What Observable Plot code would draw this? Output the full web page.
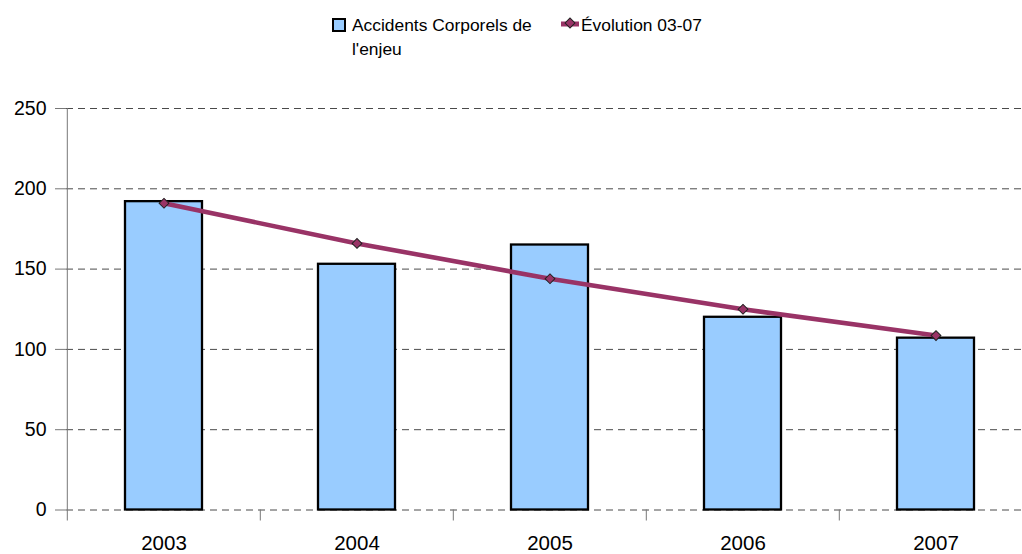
<!DOCTYPE html>
<html>
<head>
<meta charset="utf-8">
<script src="https://cdn.jsdelivr.net/npm/d3@7"></script>
<script src="https://cdn.jsdelivr.net/npm/@observablehq/plot@0.6"></script>
<style>
  html, body { margin: 0; padding: 0; background: #fff; }
  #wrap { position: relative; width: 1022px; height: 554px; font-family: "Liberation Sans", Arial, sans-serif; }
  #legend { position: relative; height: 80px; font-size: 17.4px; color: #000; }
  #legend .item { position: absolute; display: flex; align-items: flex-start; line-height: 24px; }
  #legend svg { display: block; }
  #chart svg { display: block; }
</style>
</head>
<body>
<div id="wrap">
  <div id="legend">
    <div class="item" style="left:331px; top:13px;">
      <svg width="17" height="24"><rect x="2" y="6" width="12" height="12" fill="#99ccff" stroke="#000" stroke-width="2"/></svg>
      <span style="margin-left:4px;">Accidents Corporels de<br>l'enjeu</span>
    </div>
    <div class="item" style="left:559px; top:13px;">
      <svg width="22" height="24"><line x1="2" y1="11" x2="20" y2="11" stroke="#993366" stroke-width="5"/><rect x="7.5" y="6.5" width="7" height="7" transform="rotate(45 11 10)" fill="#993366" stroke="#222" stroke-width="1"/></svg>
      <span style="margin-left:0px;">Évolution 03-07</span>
    </div>
  </div>
  <div id="chart"></div>
</div>
<script>
// Categories and series
const years = ["2003", "2004", "2005", "2006", "2007"];
const accidents = [192, 153, 165, 120, 107];
const evolution = [191, 166, 144, 125, 108.6];
const yTicks = [0, 50, 100, 150, 200, 250];

const bars = years.map((year, i) => ({year, value: accidents[i]}));
const trend = years.map((year, i) => ({year, value: evolution[i]}));

// Horizontal layout: each year occupies one band; ticks sit on band boundaries
const xRange = [66, 1033];
const step = (xRange[1] - xRange[0]) / years.length;

const plumColor = "#993366";
const gridColor = "#4a4a4a";
const axisColor = "#777";

const chart = Plot.plot({
  width: 1022,
  height: 474,
  marginTop: 28,
  marginBottom: 44.5,
  marginLeft: 66,
  marginRight: 0,
  style: {fontFamily: "'Liberation Sans', Arial, sans-serif", background: "#fff", overflow: "visible"},
  x: {type: "band", domain: years, range: xRange, paddingInner: 0.6, paddingOuter: 0.3},
  y: {domain: [0, 250]},
  marks: [
    // dashed horizontal gridlines
    Plot.ruleY(yTicks, {stroke: gridColor, strokeWidth: 1, strokeDasharray: "7,5"}),
    // bars
    Plot.barY(bars, {x: "year", y: "value", fill: "#99ccff", stroke: "#000", strokeWidth: 2.3}),
    // vertical axis line
    Plot.ruleX([years[0]], {x: d => d, dx: -step / 2, y1: 250, y2: 0, insetBottom: -11, stroke: axisColor}),
    // category boundary tick marks below the baseline
    Plot.ruleX(years.slice(1), {x: d => d, dx: -step / 2, y1: 0, y2: 0, insetBottom: -11, stroke: axisColor}),
    // trend line with diamond markers
    Plot.line(trend, {x: "year", y: "value", stroke: plumColor, strokeWidth: 4.6}),
    Plot.dot(trend, {x: "year", y: "value", symbol: "square", r: 3.9, rotate: 45, fill: plumColor, stroke: "#222", strokeWidth: 1}),
    // axes
    Plot.axisY({ticks: yTicks, tickSize: 11, tickPadding: 9, fontSize: 19.5, stroke: axisColor, label: null}),
    Plot.axisX({tickSize: 0, tickPadding: 25, fontSize: 20.5, label: null})
  ]
});

document.getElementById("chart").appendChild(chart);
</script>
</body>
</html>
